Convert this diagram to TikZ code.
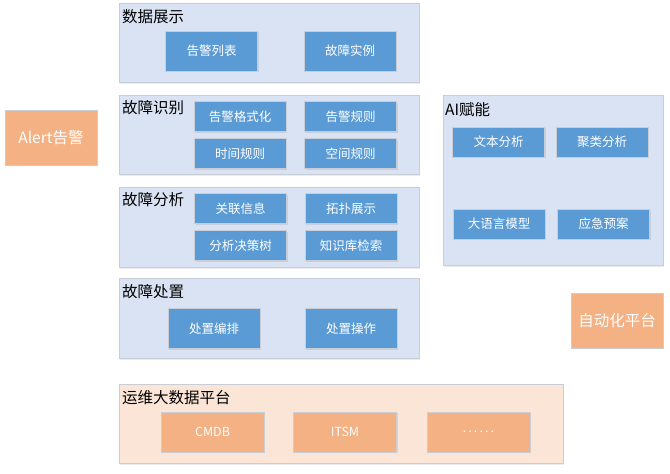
\documentclass[tikz,border=0pt]{standalone}
\usepackage{fontspec}
\setmainfont{Noto Sans CJK SC}
\usetikzlibrary{shadows}
\definecolor{panelbg}{HTML}{DAE3F3}
\definecolor{panelln}{HTML}{C9CED6}
\definecolor{blkbg}{HTML}{5B9BD5}
\definecolor{orgbg}{HTML}{F4B183}
\definecolor{orgpanel}{HTML}{FBE5D6}
\tikzset{
  panel/.style={draw=panelln, fill=panelbg, line width=0.8pt, drop shadow={opacity=0.15, shadow xshift=1pt, shadow yshift=-1.5pt}},
  opanel/.style={panel, fill=orgpanel, draw=panelln},
  blk/.style={draw=panelln, fill=blkbg, text=white, line width=0.8pt, inner sep=0pt, font=\fontsize{12.5}{14}\selectfont, drop shadow={opacity=0.2, shadow xshift=1pt, shadow yshift=-1pt}},
  obox/.style={blk, fill=orgbg},
  title/.style={anchor=west, inner sep=0pt, font=\fontsize{15.5}{17}\selectfont}
}
\begin{document}
\begin{tikzpicture}[x=1pt,y=-1pt]
\useasboundingbox (0,0) rectangle (670,474);

% panels
\draw[panel] (119,3) rectangle (419,82);
\draw[panel] (119,95) rectangle (419,174);
\draw[panel] (119,187) rectangle (419,267);
\draw[panel] (119,278) rectangle (419,358);
\draw[panel] (443,95) rectangle (663,265);
\draw[opanel] (119,384) rectangle (563,463);

\node[title] (showT) at (122,17) {数据展示};
\node[title] (identT) at (122,108) {故障识别};
\node[title] (analT) at (122,200) {故障分析};
\node[title] (dispT) at (122,292) {故障处置};
\node[title] (aiT) at (445,110) {AI赋能};
\node[title] (opsT) at (122,398) {运维大数据平台};

% blue boxes, 40pt high
\foreach \nm/\x/\y/\txt in {alarmlist/211.5/51/告警列表, faultcase/350/51/故障实例,
  orchest/214/328.5/处置编排, operate/351/328.5/处置操作}{
\node[blk, minimum width=92pt, minimum height=40pt] (\nm) at (\x,\y) {\txt};
}
% blue boxes, 29pt high
\foreach \nm/\x/\y/\txt in {alarmfmt/240/116.5/告警格式化, alarmrule/350.5/116.5/告警规则,
  timerule/240/153.5/时间规则, spacerule/350.5/153.5/空间规则,
  relinfo/240.5/208.5/关联信息, topo/351/208.5/拓扑展示,
  dtree/240.5/245.5/分析决策树, kbase/351/245.5/知识库检索,
  textana/498.5/142/文本分析, cluster/602/142/聚类分析,
  llm/499/224/大语言模型, plan/603.5/224/应急预案}{
\node[blk, minimum width=92pt, minimum height=30pt] (\nm) at (\x,\y) {\txt};
}

% orange boxes
\node[obox, minimum width=92pt, minimum height=55pt, font=\fontsize{15.5}{17}\selectfont] (alert) at (51,137.5) {Alert告警};
\node[obox, minimum width=92pt, minimum height=55pt, font=\fontsize{15.5}{17}\selectfont] (auto) at (617,320.5) {自动化平台};
\foreach \nm/\x/\txt in {cmdb/212.5/CMDB, itsm/345/ITSM}{
\node[obox, minimum width=103pt, minimum height=40pt] (\nm) at (\x,432) {\txt};
}
\node[obox, minimum width=103pt, minimum height=40pt] (more) at (478.5,432) {{.}\,{.}\,{.}\,{.}\,{.}\,{.}};
\end{tikzpicture}
\end{document}
